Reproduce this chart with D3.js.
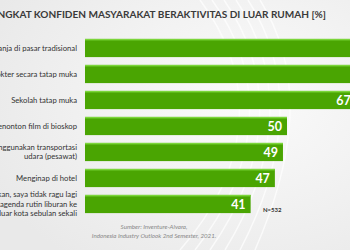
<!DOCTYPE html>
<html>
<head>
<meta charset="utf-8">
<title>Tingkat konfiden masyarakat</title>
<script src="https://d3js.org/d3.v7.min.js"></script>
<style>
  body { margin: 0; overflow: hidden; }
  svg { display: block; font-family: Lato, "Open Sans", sans-serif; }
</style>
</head>
<body>
<div id="chart"></div>
<script>
// data (top two bars run past the frame, values guessed)
var categories = [
  ["Belanja di pasar tradisional"],
  ["Ke dokter secara tatap muka"],
  ["Sekolah tatap muka"],
  ["Menonton film di bioskop"],
  ["Menggunakan transportasi", "udara (pesawat)"],
  ["Menginap di hotel"],
  ["Jika diizinkan, saya tidak ragu lagi", "untuk kembali ke agenda rutin liburan ke", "luar kota sebulan sekali"]
];
var values = [78, 72, 67, 50, 49, 47, 41];
var title = "TINGKAT KONFIDEN MASYARAKAT BERAKTIVITAS DI LUAR RUMAH [%]";
var sourceLines = ["Sumber: Inventure-Alvara,", "Indonesia Industry Outlook 2nd Semester, 2021."];

var W = 350, H = 250;
var svg = d3.select("#chart").append("svg").attr("width", W).attr("height", H);

// background, light grey with a soft highlight
var defs = svg.append("defs");
var rg = defs.append("radialGradient").attr("id", "bg").attr("cx", "70%").attr("cy", "40%").attr("r", "80%");
rg.append("stop").attr("offset", "0%").attr("stop-color", "#fbfbfb");
rg.append("stop").attr("offset", "100%").attr("stop-color", "#e9e9e9");
svg.append("rect").attr("width", W).attr("height", H).attr("fill", "url(#bg)");

// faint swooshes
var swoosh = svg.append("g").attr("fill", "none").attr("stroke", "#ffffff").attr("stroke-opacity", 0.7);
[0, 1, 2, 3, 4, 5].forEach(function(i) {
  swoosh.append("path")
    .attr("stroke-width", 1.5)
    .attr("d", "M" + (200 + i * 12) + ",0 C" + (260 + i * 10) + ",80 " + (250 + i * 8) + ",170 " + (180 + i * 15) + ",250");
});

var x = d3.scaleLinear().domain([0, 50]).range([85, 287]);
var y = d3.scaleBand().domain(d3.range(values.length)).range([35, 217]).paddingInner(0.3).paddingOuter(0.15);

svg.append("text")
  .attr("x", 326).attr("y", 18)
  .attr("text-anchor", "end")
  .attr("font-size", 10.05).attr("font-weight", "bold").attr("fill", "#3a3a3a")
  .text(title);

var bars = svg.append("g").selectAll("g").data(values).join("g");

bars.append("rect")
  .attr("x", x(0))
  .attr("y", function(d, i) { return y(i); })
  .attr("width", function(d) { return x(d) - x(0); })
  .attr("height", y.bandwidth())
  .attr("fill", "#4aa502");

bars.append("rect")
  .attr("x", x(0))
  .attr("y", function(d, i) { return y(i); })
  .attr("width", function(d) { return x(d) - x(0); })
  .attr("height", 1.5)
  .attr("fill", "#7cd63a");

bars.append("text")
  .attr("x", function(d) { return x(d) - 5; })
  .attr("y", function(d, i) { return y(i) + y.bandwidth() / 2; })
  .attr("dy", "0.36em")
  .attr("text-anchor", "end")
  .attr("font-size", 12.5).attr("font-weight", "bold").attr("fill", "#ffffff")
  .text(function(d) { return d; });

var labels = svg.append("g").selectAll("text").data(categories).join("text")
  .attr("text-anchor", "end")
  .attr("font-size", 7.7).attr("fill", "#333333")
  .attr("y", function(d, i) { return y(i) + y.bandwidth() / 2 - (d.length - 1) * 4.6; });

labels.selectAll("tspan").data(function(d) { return d; }).join("tspan")
  .attr("x", 77)
  .attr("dy", function(d, j) { return j === 0 ? "0.35em" : "1.2em"; })
  .text(function(d) { return d; });

svg.append("text")
  .attr("x", 263).attr("y", 212)
  .attr("font-size", 6).attr("font-weight", "bold").attr("fill", "#333333")
  .text("N=532");

svg.append("g").selectAll("text").data(sourceLines).join("text")
  .attr("x", 154)
  .attr("y", function(d, i) { return 229 + i * 8.5; })
  .attr("text-anchor", "middle")
  .attr("font-size", 6.2).attr("font-style", "italic").attr("fill", "#888888")
  .text(function(d) { return d; });
</script>
</body>
</html>
